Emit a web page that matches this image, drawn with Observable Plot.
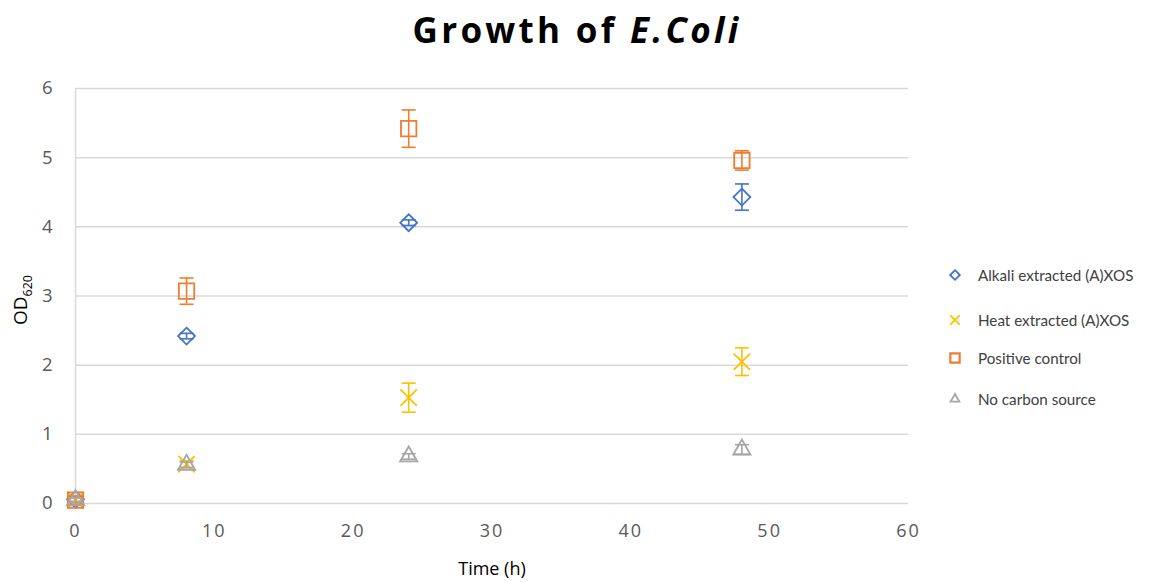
<!DOCTYPE html>
<html>
<head>
<meta charset="utf-8">
<script src="https://cdn.jsdelivr.net/npm/d3@7"></script>
<script src="https://cdn.jsdelivr.net/npm/@observablehq/plot@0.6"></script>
<style>
  html, body { margin: 0; padding: 0; background: #fff; }
  #wrap { position: relative; width: 1154px; height: 582px; font-family: "Open Sans", sans-serif; }
  #title { height: 60px; line-height: 60px; text-align: center; font-size: 35px; font-weight: bold; letter-spacing: 3.3px; color: #000; }
  #legend { position: absolute; left: 944px; top: 0; font-family: Lato, sans-serif; font-size: 15.2px; color: #404040; }
  .item { position: absolute; left: 0; white-space: nowrap; display: flex; align-items: center; }
  .item svg { width: 22px; height: 22px; margin-right: 12px; }
  g[aria-label="x-axis tick label"] text { letter-spacing: 2px; }
</style>
</head>
<body>
<div id="wrap">
  <div id="title">Growth of <i>E.Coli</i></div>
  <div id="chart"></div>
  <div id="legend"></div>
</div>
<script>
// ---- data ----
const times = [0, 8, 24, 48];
const seriesNames = ["Alkali extracted (A)XOS", "Heat extracted (A)XOS", "Positive control", "No carbon source"];
const alkali      = [0.06, 2.42, 4.06, 4.43];
const alkaliErr   = [0.03, 0.04, 0.04, 0.19];
const heat        = [0.05, 0.57, 1.53, 2.05];
const heatErr     = [0.03, 0.05, 0.21, 0.20];
const positive    = [0.05, 3.07, 5.42, 4.96];
const positiveErr = [0.06, 0.19, 0.27, 0.14];
const noCarbon    = [0.05, 0.56, 0.68, 0.78];
const noCarbonErr = [0.03, 0.04, 0.04, 0.07];
const xTicks = [0, 10, 20, 30, 40, 50, 60];
const yTicks = [0, 1, 2, 3, 4, 5, 6];

const colors  = ["#4472C4", "#FFC000", "#ED7D31", "#A5A5A5"];
const symbols = ["diamond2", "times", "square2", "triangle2"];
const radii   = [7.6, 7.5, 9.8, 8.2];
const values  = [alkali, heat, positive, noCarbon];
const errors  = [alkaliErr, heatErr, positiveErr, noCarbonErr];

const rows = [];
seriesNames.forEach((name, i) => {
  times.forEach((t, j) => rows.push({series: name, idx: i, t, v: values[i][j], e: errors[i][j]}));
});

const capSymbol = {
  draw(ctx, size) { const r = Math.sqrt(size / Math.PI); ctx.moveTo(-r, 0); ctx.lineTo(r, 0); }
};

const marks = [
  Plot.gridY(yTicks, {stroke: "#d9d9d9", strokeOpacity: 1, strokeWidth: 1.5}),
  Plot.ruleX([0], {stroke: "#d9d9d9", strokeWidth: 1.5}),
  Plot.axisX(xTicks, {tickSize: 0, tickPadding: 21, fontSize: 18, color: "#595959", label: null, tickFormat: d => String(d)}),
  Plot.axisY(yTicks, {tickSize: 0, tickPadding: 23, fontSize: 18.5, color: "#595959", label: null, tickFormat: d => String(d)}),
  Plot.text(["Time (h)"], {frameAnchor: "bottom", dy: 71, fontSize: 18, fill: "#000"})
];
seriesNames.forEach((name, i) => {
  const d = rows.filter(r => r.idx === i);
  marks.push(
    Plot.ruleX(d, {x: "t", y1: r => r.v - r.e, y2: r => r.v + r.e, stroke: colors[i], strokeWidth: 1.6}),
    Plot.dot(d, {x: "t", y: r => r.v - r.e, symbol: capSymbol, r: 7, stroke: colors[i], strokeWidth: 1.6}),
    Plot.dot(d, {x: "t", y: r => r.v + r.e, symbol: capSymbol, r: 7, stroke: colors[i], strokeWidth: 1.6}),
    Plot.dot(d, {x: "t", y: "v", symbol: symbols[i], r: radii[i], stroke: colors[i], fill: "none", strokeWidth: 1.8})
  );
});

const chart = Plot.plot({
  width: 1154,
  height: 522,
  marginLeft: 75,
  marginRight: 246,
  marginTop: 28,
  marginBottom: 79,
  style: {fontFamily: "Open Sans, sans-serif", background: "#fff"},
  x: {domain: [0, 60]},
  y: {domain: [0, 6]},
  marks
});
document.getElementById("chart").appendChild(chart);

// y-axis label with subscript
const svg = d3.select(chart);
const yl = svg.append("text")
  .attr("transform", "translate(27,240) rotate(-90)")
  .attr("text-anchor", "middle")
  .attr("font-size", 19)
  .attr("fill", "#000")
  .attr("font-family", "Open Sans, sans-serif");
yl.append("tspan").text("OD");
yl.append("tspan").attr("font-size", 12.5).attr("dy", 5).text("620");

// legend
const legendTops = [275, 320, 358, 399];
const legend = d3.select("#legend");
seriesNames.forEach((name, i) => {
  const item = legend.append("div").attr("class", "item").style("top", (legendTops[i] - 11) + "px");
  const s = item.append("svg").attr("viewBox", "-11 -11 22 22");
  const symType = {diamond2: d3.symbolDiamond2, times: d3.symbolTimes, square2: d3.symbolSquare2, triangle2: d3.symbolTriangle2}[symbols[i]];
  const sz = [60, 60, 110, 55][i];
  s.append("path").attr("d", d3.symbol(symType, sz)()).attr("fill", "none").attr("stroke", colors[i]).attr("stroke-width", i === 2 ? 2.2 : 1.8);
  item.append("span").text(name);
});
</script>
</body>
</html>
